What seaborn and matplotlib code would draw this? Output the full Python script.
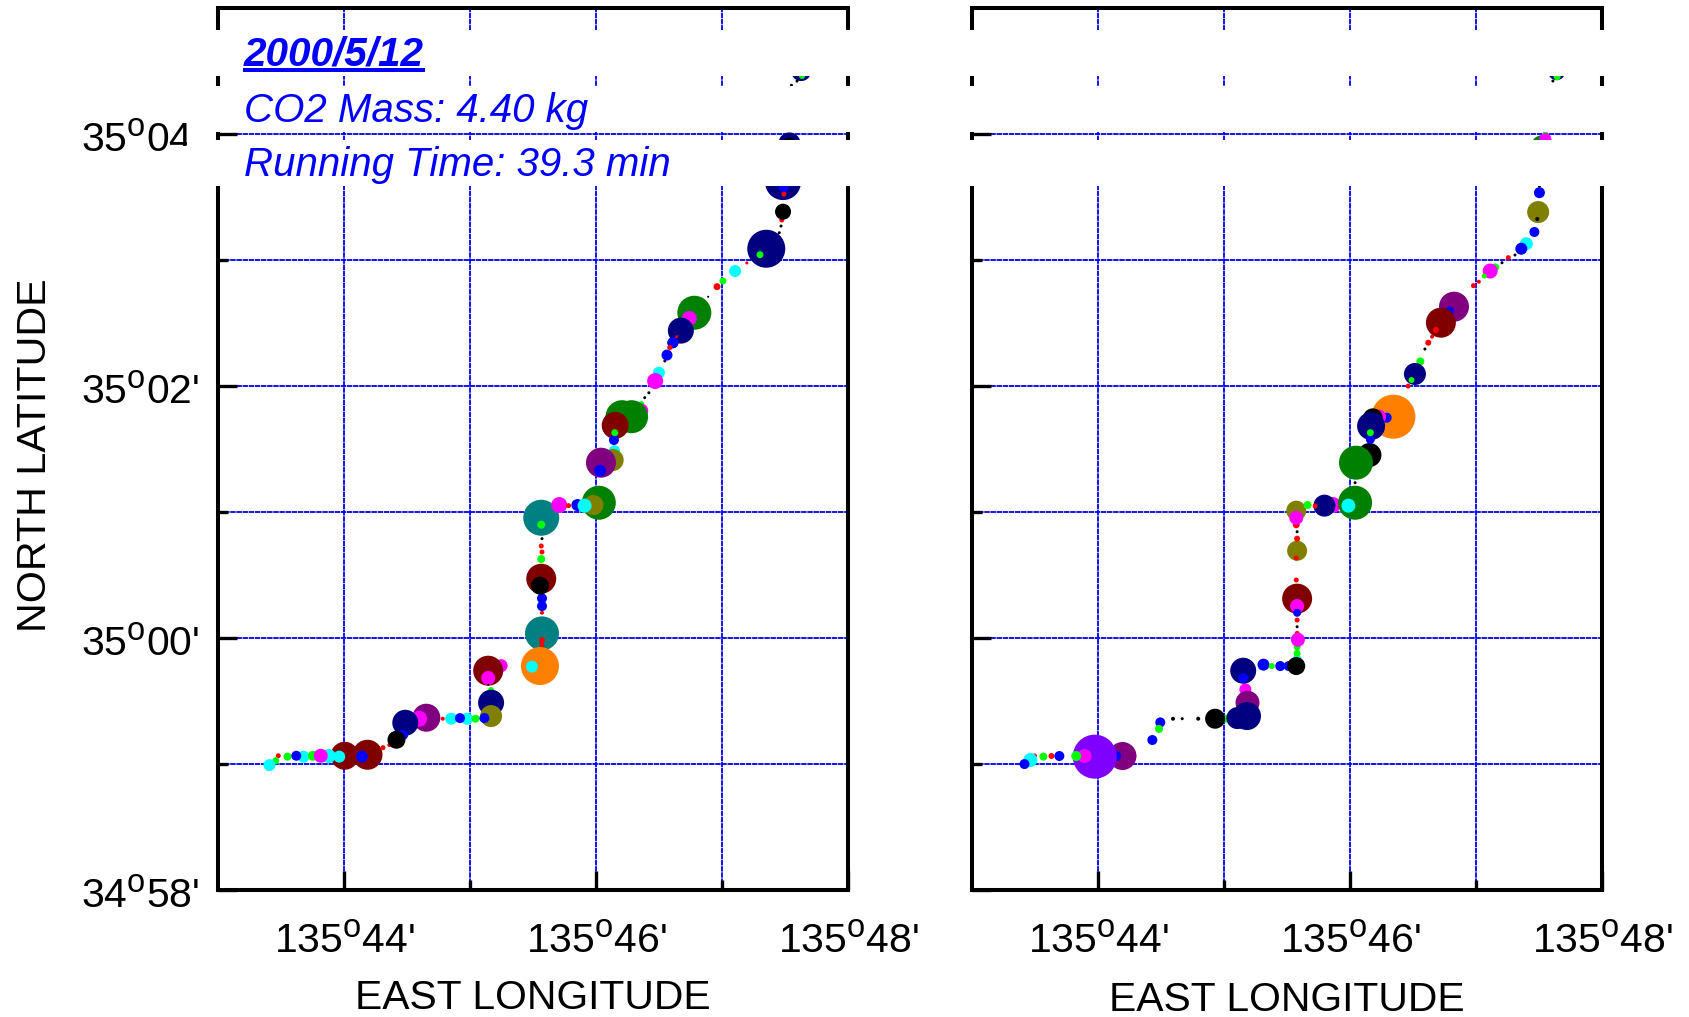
import matplotlib
matplotlib.use("Agg")
import matplotlib.pyplot as plt
import matplotlib._mathtext as _mt
from matplotlib.patches import Rectangle
from matplotlib.transforms import ScaledTranslation
import pandas as pd
import seaborn as sns

_mt.SHRINK_FACTOR = 0.8  # larger superscript "o" in the degree signs

COLORS = {"black": "#000000", "red": "#FF0000", "lime": "#00FF00", "blue": "#0000FF",
          "cyan": "#00FFFF", "magenta": "#FF00FF", "olive": "#808000", "navy": "#000080",
          "maroon": "#800000", "purple": "#800080", "teal": "#008080", "green": "#008000",
          "orange": "#FF8000", "violet": "#8000FF"}

# longitude: minutes past 135 deg; latitude: minutes past 34 deg
left_col = ["red","lime","cyan","lime","cyan","blue","lime","maroon","cyan","magenta","cyan","maroon","blue","red","red",
            "purple","magenta","navy","blue","black","red","cyan","cyan","blue","lime","lime","navy","olive","blue",
            "magenta","maroon","magenta","black","teal","red","red","orange","cyan","red","blue","blue","maroon","black",
            "lime","red","red","black","teal","lime","magenta","red","cyan","blue","green","olive","cyan",
            "cyan","olive","purple","blue","lime","magenta","green","green","maroon","blue","lime","black","black","black",
            "cyan","magenta","black","blue","red","blue","red","green","magenta","navy","red","blue","red",
            "black","red","lime","cyan","red","red","navy","lime","black","black","red","black","navy","blue","red",
            "navy","black","navy","lime","black","black"]
left_lon = [43.476,43.456,43.406,43.549,43.676,43.619,43.750,44.003,43.876,43.813,43.960,44.184,44.140,44.307,44.357,
            44.651,44.594,44.484,44.467,44.414,44.781,44.848,44.975,44.918,45.042,45.165,45.165,45.165,45.112,
            45.245,45.142,45.142,45.142,45.569,45.569,45.569,45.553,45.489,45.569,45.569,45.569,45.563,45.553,
            45.563,45.569,45.563,45.569,45.563,45.563,45.706,45.780,45.907,45.850,46.020,45.977,45.907,
            46.144,46.130,46.037,46.030,46.357,46.357,46.204,46.280,46.150,46.140,46.147,46.384,46.417,46.451,
            46.497,46.467,46.544,46.561,46.584,46.608,46.638,46.778,46.738,46.671,46.638,46.608,46.584,
            46.888,46.958,47.005,47.102,47.195,47.252,47.349,47.299,47.452,47.466,47.472,47.482,47.482,47.489,47.489,
            47.533,47.533,47.626,47.633,47.593,47.549]
left_lat = [59.063,59.024,58.989,59.056,59.056,59.063,59.063,59.063,59.061,59.063,59.056,59.071,59.056,59.127,59.148,
            59.365,59.357,59.325,59.228,59.190,59.357,59.357,59.357,59.362,59.357,59.585,59.484,59.378,59.362,
            59.778,59.738,59.680,59.627,60.034,59.981,59.942,59.775,59.770,60.198,60.251,60.312,60.468,60.413,
            60.624,60.680,60.728,60.786,60.952,60.897,61.053,61.048,61.048,61.053,61.071,61.053,61.048,
            61.484,61.410,61.389,61.325,61.854,61.802,61.754,61.754,61.685,61.569,61.627,61.905,61.944,61.992,
            62.103,62.037,62.196,62.243,62.304,62.341,62.389,62.579,62.534,62.437,62.389,62.341,62.304,
            62.706,62.786,62.831,62.910,62.974,63.013,63.087,63.040,63.214,63.267,63.315,63.381,63.616,63.574,63.521,
            63.923,63.915,64.497,64.458,64.418,64.384]
left_dia = [5,7,12,8,12,10,10,28,14,14,12,30,12,5,4,
            28,16,26,10,18,4,12,12,10,8,6,26,22,10,
            13,30,14,2,34,6,5,38,12,4,10,10,30,18,
            8,5,5,3,36,8,16,5,14,12,34,20,14,
            11,22,30,12,6,14,33,33,27,10,7,3,3,3,
            12,16,3,11,5,11,3,34,15,26,3,11,5,
            2,7,7,12,3,5,38,7,3,3,5,16,36,10,5,
            22,14,20,6,3,3]

right_col = ["red","cyan","blue","lime","red","blue","purple","blue","violet","magenta","lime","blue","blue","lime",
             "black","black","black","lime","black","navy","magenta","purple","navy","navy","blue","blue","lime","blue",
             "blue","cyan","lime","lime","red","black","magenta","black","red","maroon","magenta","blue","red","olive",
             "red","red","black","red","olive","magenta","lime","magenta","navy","red","red","green","cyan","black",
             "black","black","green","orange","blue","magenta","black","navy","blue","lime","red","lime","navy","lime",
             "black","purple","blue","maroon","red","red","red","red","red","lime","magenta","lime","black","red",
             "black","cyan","blue","blue","olive","black","black","blue","lime","green","magenta","navy","lime","black"]
right_lon = [43.494,43.461,43.414,43.564,43.628,43.691,44.192,44.142,43.972,43.891,43.825,44.429,44.492,44.482,
             44.593,44.666,44.793,45.010,44.927,45.104,45.167,45.184,45.180,45.150,45.150,45.311,45.377,45.444,
             45.511,45.578,45.578,45.578,45.578,45.571,45.584,45.578,45.578,45.578,45.578,45.578,45.571,45.578,
             45.571,45.578,45.578,45.571,45.571,45.571,45.661,45.861,45.795,45.721,45.921,46.038,45.985,46.038,
             46.045,46.152,46.045,46.342,46.289,46.229,46.179,46.165,46.159,46.159,46.459,46.556,46.513,46.486,
             46.592,46.823,46.789,46.719,46.679,46.649,46.619,46.977,47.020,47.150,47.110,47.063,47.204,47.254,
             47.307,47.397,47.357,47.461,47.491,47.484,47.501,47.501,47.548,47.524,47.548,47.638,47.641,47.608]
right_lat = [59.061,59.029,58.997,59.056,59.061,59.061,59.061,59.061,59.056,59.061,59.061,59.188,59.328,59.276,
             59.357,59.357,59.357,59.357,59.357,59.362,59.590,59.484,59.378,59.738,59.680,59.786,59.775,59.775,
             59.775,59.836,59.876,59.929,60.034,59.775,59.984,60.087,60.140,60.310,60.251,60.198,60.458,60.690,
             60.632,60.786,60.841,60.897,61.008,60.952,61.053,61.053,61.048,61.045,61.045,61.071,61.048,61.230,
             61.272,61.450,61.389,61.754,61.746,61.754,61.741,61.680,61.574,61.627,61.997,62.193,62.093,62.045,
             62.291,62.627,62.593,62.500,62.442,62.389,62.341,62.794,62.825,62.939,62.910,62.870,62.976,63.016,
             63.037,63.127,63.087,63.220,63.378,63.323,63.585,63.532,64.003,63.897,63.958,64.492,64.452,64.418]
right_dia = [5,14,10,8,6,10,28,10,44,14,10,10,10,8,
             4,3,4,8,20,22,12,24,28,26,10,12,6,10,
             10,8,7,7,5,18,14,3,5,30,14,8,5,20,
             5,6,3,7,20,14,8,16,22,5,5,34,14,3,
             3,24,34,44,10,14,20,28,9,7,5,8,22,6,
             3,30,9,30,6,4,6,5,4,8,15,5,3,5,
             3,13,12,10,22,4,3,11,5,23,12,17,7,3]

xlabel_text = "EAST LONGITUDE"
ylabel_text = "NORTH LATITUDE"
x_ticks = [44, 46, 48]
x_minor = [45, 47]
y_ticks = [58, 60, 62, 64]
y_minor = [59, 61, 63]
x_labels = ["135$^{\\mathrm{o}}$44'", "135$^{\\mathrm{o}}$46'", "135$^{\\mathrm{o}}$48'"]
y_labels = ["34$^{\\mathrm{o}}$58'", "35$^{\\mathrm{o}}$00'", "35$^{\\mathrm{o}}$02'", "35$^{\\mathrm{o}}$04'"]
info_date = "2000/5/12"
info_mass = "CO2 Mass: 4.40 kg"
info_time = "Running Time: 39.3 min"

sns.set_style("white")
plt.rcParams["font.family"] = ["Liberation Sans", "DejaVu Sans"]
plt.rcParams["mathtext.fontset"] = "custom"
plt.rcParams["mathtext.rm"] = "Liberation Sans"
plt.rcParams["mathtext.default"] = "regular"
plt.rcParams["text.color"] = "black"
plt.rcParams["axes.labelcolor"] = "black"

W, H = 1689, 1017
fig = plt.figure(figsize=(W / 100, H / 100), dpi=100, facecolor="white")
AX_TOP, AX_BOT = 7.7, 889.7
LABEL_SIZE = 29.4


def add_panel(x0, lon, lat, dia, col):
    ax = fig.add_axes([x0 / W, 1 - AX_BOT / H, 630 / W, (AX_BOT - AX_TOP) / H])
    ax.set_xlim(43, 48)
    ax.set_ylim(58, 65)
    df = pd.DataFrame({"lon": lon, "lat": lat, "dia": dia, "col": col})
    sizes = {d: (d * 0.72) ** 2 for d in sorted(set(dia))}
    sns.scatterplot(data=df, x="lon", y="lat", hue="col", size="dia", palette=COLORS, sizes=sizes,
                    linewidth=0, marker="o", legend=False, ax=ax, zorder=3)
    ax.set_xlabel("")
    ax.set_ylabel("")
    ax.set_xticks(x_ticks, labels=x_labels)
    ax.set_xticks(x_minor, minor=True)
    ax.set_yticks(y_ticks, labels=y_labels)
    ax.set_yticks(y_minor, minor=True)
    ax.grid(True, which="both", color="#0000FF", linewidth=1.3, linestyle=(0, (3, 0.4)))
    ax.set_axisbelow(True)
    ax.tick_params(which="major", axis="both", direction="in", length=13.7, width=2.4, color="black",
                   labelsize=LABEL_SIZE, labelcolor="black")
    ax.tick_params(which="minor", axis="both", direction="in", length=7.2, width=2.4, color="black")
    ax.tick_params(axis="x", which="major", pad=23.5, top=False, bottom=True)
    ax.tick_params(axis="x", which="minor", top=False, bottom=True)
    ax.tick_params(axis="y", which="major", pad=13.7, left=True, right=False)
    ax.tick_params(axis="y", which="minor", left=True, right=False)
    offset = ScaledTranslation(0, -2 / 72, fig.dpi_scale_trans)
    for lab in ax.get_yticklabels():
        lab.set_transform(lab.get_transform() + offset)
    for s in ax.spines.values():
        s.set_visible(True)
        s.set_linewidth(2.9)
        s.set_color("black")
    return ax


ax1 = add_panel(218.3, left_lon, left_lat, left_dia, left_col)
ax2 = add_panel(972.3, right_lon, right_lat, right_dia, right_col)
ax2.tick_params(axis="y", which="major", labelleft=False)

ax1.set_ylabel(ylabel_text, fontsize=LABEL_SIZE + 0.3, va="center")
ax1.yaxis.set_label_coords((35 - 218.3) / 630, 1 - (455 - AX_TOP) / (AX_BOT - AX_TOP))
ax1.set_xlabel(xlabel_text, fontsize=LABEL_SIZE, va="center")
ax1.xaxis.set_label_coords(0.5, -(998 - AX_BOT) / (AX_BOT - AX_TOP))
ax2.set_xlabel(xlabel_text, fontsize=LABEL_SIZE, va="center")
ax2.xaxis.set_label_coords(0.5, -(1000 - AX_BOT) / (AX_BOT - AX_TOP))

# white boxes behind the annotation lines, overlapping both panels
for left, top, bot in [(187, 30, 76), (187, 86, 132), (187, 140, 186), (176, 146, 156)]:
    fig.add_artist(Rectangle((left / W, 1 - bot / H), (1640 - left) / W, (bot - top) / H,
                             transform=fig.transFigure, facecolor="white", edgecolor="none", zorder=5))

fig.text(243.5 / W, 1 - 66 / H, info_date, color="#0000FF", fontsize=29.2, fontweight="bold",
         fontstyle="italic", va="baseline", ha="left", zorder=6)
fig.add_artist(Rectangle((243 / W, 1 - 72 / H), 182 / W, 3.5 / H, transform=fig.transFigure,
                         facecolor="#0000FF", edgecolor="none", zorder=6))
fig.text(244 / W, 1 - 122 / H, info_mass, color="#0000FF", fontsize=29, fontstyle="italic",
         va="baseline", ha="left", zorder=6)
fig.text(244 / W, 1 - 176 / H, info_time, color="#0000FF", fontsize=29, fontstyle="italic",
         va="baseline", ha="left", zorder=6)

fig.savefig("out.png", dpi=100, facecolor="white")
